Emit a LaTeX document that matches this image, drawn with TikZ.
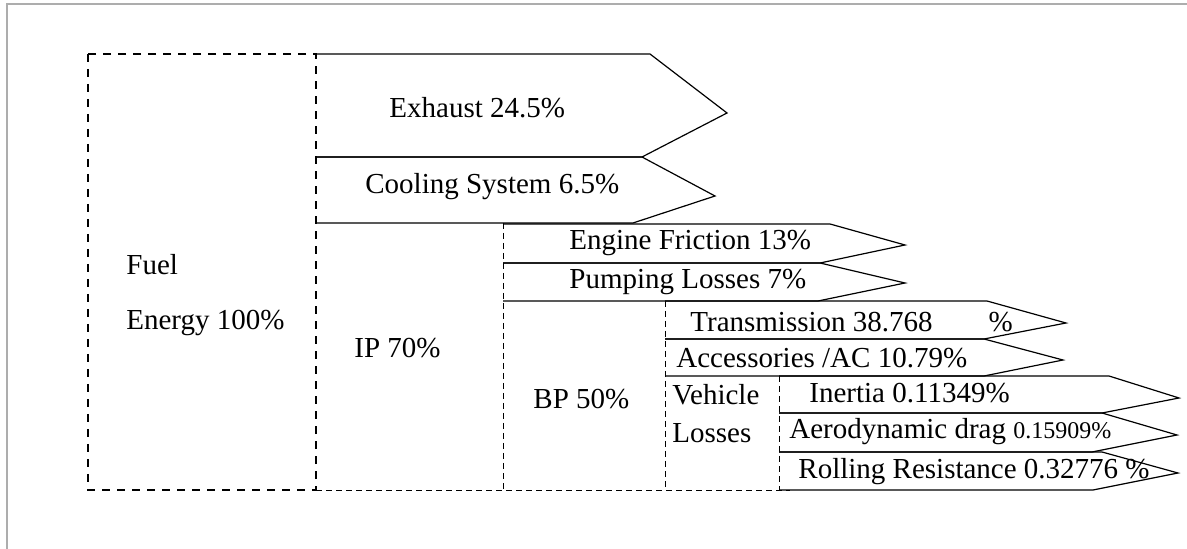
\documentclass[tikz,border=0pt]{standalone}
\usepackage{fontspec}
\setmainfont{Liberation Serif}
\usepackage{tikz}

\begin{document}
\begin{tikzpicture}[
  x=0.5pt,y=-0.5pt,
  frame/.style={draw=black!32,line width=1pt},
  fuelbox/.style={draw,line width=1.2pt,dash pattern=on 4pt off 3.5pt},
  split/.style={draw,line width=0.5pt,dash pattern=on 3pt off 2pt},
  flow/.style={draw,line width=0.6pt,line join=miter},
  lbl/.style={anchor=west,inner sep=0pt,font=\fontsize{14.5pt}{16pt}\selectfont},
]
\useasboundingbox (0,0) rectangle (1187,549);
\draw[frame] (7,549) -- (7,4) -- (1187,4);

\draw[fuelbox] (88,54) rectangle (316,490);
\draw[split] (316,490) -- (790,490);
\draw[split] (503,223) -- (503,490);
\draw[split] (665,301) -- (665,490);
\draw[split] (779,376) -- (779,490);

\draw[flow] (316,54) -- (650,54) -- (727,113) -- (642,157) -- (316,157);
\draw[flow] (316,157) -- (642,157) -- (715,196) -- (633,223) -- (316,223);
\draw[flow] (503,224) -- (830,224) -- (905,245) -- (820,263) -- (503,263);
\draw[flow] (503,263) -- (820,263) -- (905,283) -- (818,301) -- (503,301);
\draw[flow] (665,301) -- (987,301) -- (1066,323) -- (984,339) -- (665,339);
\draw[flow] (665,339) -- (984,339) -- (1063,360) -- (984,376) -- (665,376);
\draw[flow] (779,376) -- (1109,376) -- (1179,398) -- (1102,413) -- (779,413);
\draw[flow] (779,413) -- (1102,413) -- (1177,435) -- (1092,452) -- (779,452);
\draw[flow] (779,452) -- (1102,452) -- (1178,473) -- (1093,490) -- (779,490);

\node (fuel) [lbl] at (126,265) {Fuel};
\node (energy) [lbl] at (126,323) {Energy 100\%};
\node (exhaust) [lbl] at (389,108) {Exhaust 24.5\%};
\node (cooling) [lbl] at (365,187) {Cooling System 6.5\%};
\node (ip) [lbl] at (354,348) {IP 70\%};
\node (friction) [lbl] at (569,243) {Engine Friction 13\%};
\node (pumping) [lbl] at (569,282) {Pumping Losses 7\%};
\node (bp) [lbl] at (533,399) {BP 50\%};
\node (trans) [lbl] at (690,322) {Transmission 38.768\hspace{28pt}\%};
\node (acc) [lbl] at (676,358) {Accessories /AC 10.79\%};
\node (vehicle) [lbl] at (672,395) {Vehicle};
\node (losses) [lbl] at (672,433) {Losses};
\node (inertia) [lbl] at (809,393) {Inertia 0.11349\%};
\node (aero) [lbl] at (789,432) {Aerodynamic drag {\fontsize{12pt}{13pt}\selectfont 0.15909\%}};
\node (rolling) [lbl] at (798,472) {Rolling Resistance 0.32776 \%};
\end{tikzpicture}
\end{document}
